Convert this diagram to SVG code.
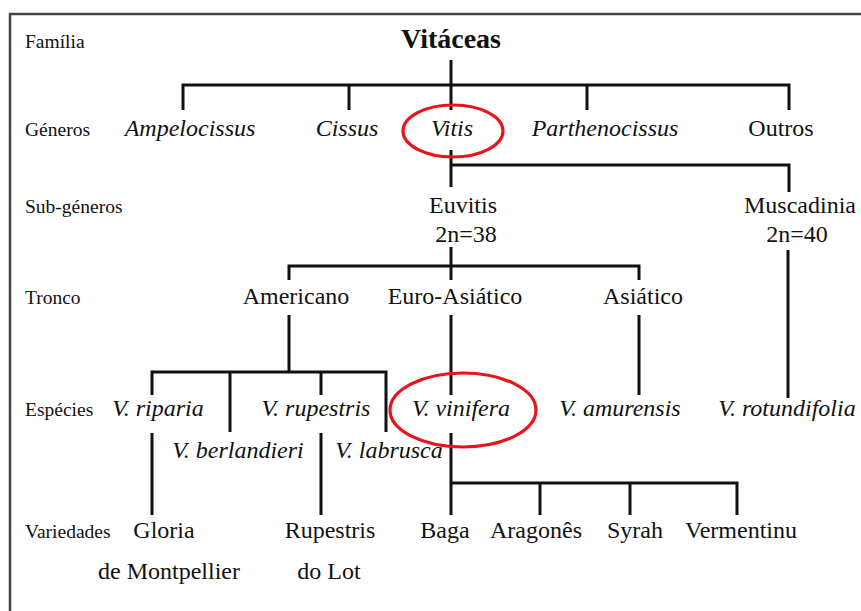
<svg xmlns="http://www.w3.org/2000/svg" width="861" height="611" viewBox="0 0 861 611">
<rect width="861" height="611" fill="#fff"/>
<path d="M10,611 V14 H861" fill="none" stroke="#444" stroke-width="2.5"/>
<g id="connectors" fill="none" stroke="#111" stroke-width="3">
<path d="M451,60 V110"/>
<path d="M183,110 V85 H789 V110"/>
<path d="M349,85 V110"/>
<path d="M587,85 V110"/>
<path d="M451,150 V187"/>
<path d="M451,165 H789 V192"/>
<path d="M451,247 V280"/>
<path d="M289,280 V266 H639 V280"/>
<path d="M289,315 V372"/>
<path d="M152,395 V372 H386 V432"/>
<path d="M230,372 V432"/>
<path d="M321,372 V395"/>
<path d="M451,315 V395"/>
<path d="M639,315 V395"/>
<path d="M788,250 V398"/>
<path d="M152,433 V515"/>
<path d="M321,433 V515"/>
<path d="M451,433 V515"/>
<path d="M451,483 H737 V515"/>
<path d="M540,483 V515"/>
<path d="M630,483 V515"/>
</g>
<g id="labels" font-size="19.5" fill="#111">
<text font-family="Liberation Serif" x="25" y="48">Fam&#237;lia</text>
<text font-family="Liberation Serif" x="25" y="136">G&#233;neros</text>
<text font-family="Liberation Serif" x="25" y="213">Sub-g&#233;neros</text>
<text font-family="Liberation Serif" x="25" y="304">Tronco</text>
<text font-family="Liberation Serif" x="25" y="416">Esp&#233;cies</text>
<text font-family="Liberation Serif" x="25" y="538">Variedades</text>
</g>
<g font-size="24" text-anchor="middle" fill="#111">
<g id="vitaceas"><text font-family="Liberation Serif" x="451" y="48" font-size="28" font-weight="bold">Vit&#225;ceas</text></g>
<g id="ampelocissus"><text font-family="Liberation Serif" font-style="italic" x="190" y="136">Ampelocissus</text></g>
<g id="cissus"><text font-family="Liberation Serif" font-style="italic" x="347" y="136">Cissus</text></g>
<g id="vitis"><text font-family="Liberation Serif" font-style="italic" x="452" y="136">Vitis</text><ellipse cx="453" cy="131" rx="50" ry="26" fill="none" stroke="#e8141b" stroke-width="3.2"/></g>
<g id="parthenocissus"><text font-family="Liberation Serif" font-style="italic" x="605" y="136">Parthenocissus</text></g>
<g id="outros"><text font-family="Liberation Serif" x="781" y="136">Outros</text></g>
<g id="euvitis"><text font-family="Liberation Serif" x="463" y="213">Euvitis</text><text font-family="Liberation Serif" x="466" y="242">2n=38</text></g>
<g id="muscadinia"><text font-family="Liberation Serif" x="800" y="213">Muscadinia</text><text font-family="Liberation Serif" x="797" y="242">2n=40</text></g>
<g id="americano"><text font-family="Liberation Serif" x="296" y="304">Americano</text></g>
<g id="euroasiatico"><text font-family="Liberation Serif" x="455" y="304">Euro-Asi&#225;tico</text></g>
<g id="asiatico"><text font-family="Liberation Serif" x="643" y="304">Asi&#225;tico</text></g>
<g id="riparia"><text font-family="Liberation Serif" font-style="italic" x="158" y="416">V. riparia</text></g>
<g id="rupestris"><text font-family="Liberation Serif" font-style="italic" x="316" y="416">V. rupestris</text></g>
<g id="vinifera"><text font-family="Liberation Serif" font-style="italic" x="461" y="416">V. vinifera</text><ellipse cx="463" cy="410" rx="73" ry="37" fill="none" stroke="#e8141b" stroke-width="3.2"/></g>
<g id="amurensis"><text font-family="Liberation Serif" font-style="italic" x="620" y="416">V. amurensis</text></g>
<g id="rotundifolia"><text font-family="Liberation Serif" font-style="italic" x="787" y="416">V. rotundifolia</text></g>
<g id="berlandieri"><text font-family="Liberation Serif" font-style="italic" x="238" y="458">V. berlandieri</text></g>
<g id="labrusca"><text font-family="Liberation Serif" font-style="italic" x="389" y="458">V. labrusca</text></g>
<g id="gloria"><text font-family="Liberation Serif" x="164" y="538">Gloria</text><text font-family="Liberation Serif" x="169" y="579">de Montpellier</text></g>
<g id="rupestrislot"><text font-family="Liberation Serif" x="330" y="538">Rupestris</text><text font-family="Liberation Serif" x="329" y="579">do Lot</text></g>
<g id="baga"><text font-family="Liberation Serif" x="445" y="538">Baga</text></g>
<g id="aragones"><text font-family="Liberation Serif" x="536" y="538">Aragon&#234;s</text></g>
<g id="syrah"><text font-family="Liberation Serif" x="635" y="538">Syrah</text></g>
<g id="vermentinu"><text font-family="Liberation Serif" x="741" y="538">Vermentinu</text></g>
</g>
</svg>
